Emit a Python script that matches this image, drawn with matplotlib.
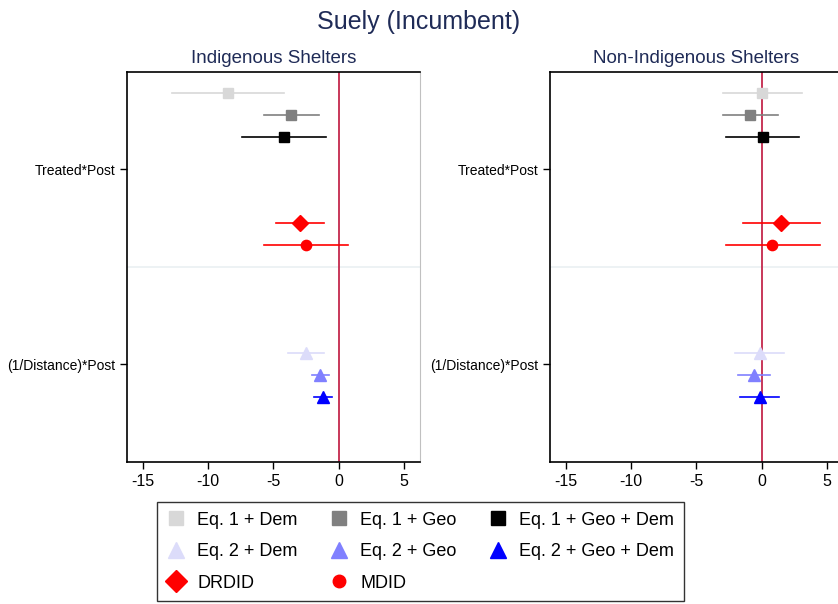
import numpy as np
import matplotlib
matplotlib.use('Agg')
import matplotlib.pyplot as plt
from matplotlib.lines import Line2D

plt.rcParams['font.family'] = ['Liberation Sans', 'DejaVu Sans']

#%% Coefficients and confidence intervals
models = ['Eq. 1 + Dem', 'Eq. 1 + Geo', 'Eq. 1 + Geo + Dem',
          'Eq. 2 + Dem', 'Eq. 2 + Geo', 'Eq. 2 + Geo + Dem',
          'DRDID', 'MDID']
coef_labels = ['Treated*Post', '(1/Distance)*Post']
panel_titles = ['Indigenous Shelters', 'Non-Indigenous Shelters']

indig_est = [-8.47, -3.66, -4.22, -2.51, -1.41, -1.20, -2.94, -2.53]
indig_lo = [-12.76, -5.73, -7.42, -3.89, -2.05, -1.89, -4.78, -5.73]
indig_hi = [-4.19, -1.51, -0.97, -1.10, -0.74, -0.49, -1.08, 0.71]

nonind_est = [0.05, -0.87, 0.08, -0.15, -0.59, -0.15, 1.51, 0.82]
nonind_lo = [-2.92, -2.97, -2.69, -2.00, -1.82, -1.64, -1.46, -2.76]
nonind_hi = [3.12, 1.23, 2.89, 1.69, 0.67, 1.33, 4.51, 4.46]

#%% Plot styling
row_pos = [0, 1, 2, 12, 13, 14, 6, 7]
colors = ['#d8d8d8', '#808080', '#000000',
          '#dcdcfa', '#8080ff', '#0000ff',
          '#ff0000', '#ff0000']
markers = ['s', 's', 's', '^', '^', '^', 'D', 'o']
msizes = [7.7, 7.7, 7.7, 8.5, 8.5, 8.5, 8.0, 7.4]
leg_sizes = [10, 10, 10, 11, 11, 11, 11, 9]
title_col = '#1f2b57'
zero_col = '#c4284c'

fig = plt.figure(figsize=(8.38, 6.04), dpi=100)
ax_l = fig.add_axes([0.1512, 0.2356, 0.350, 0.6457])
ax_r = fig.add_axes([0.6560, 0.2356, 0.350, 0.6457])

panels = [(ax_l, indig_est, indig_lo, indig_hi),
          (ax_r, nonind_est, nonind_lo, nonind_hi)]

for (ax, est, lo, hi), ttl in zip(panels, panel_titles):
    ax.axhline(8, color='#eaf0f2', lw=1.2, zorder=1)
    ax.axvline(0, color=zero_col, lw=1.3, zorder=2)
    for i in range(len(models)):
        ax.plot([lo[i], hi[i]], [row_pos[i], row_pos[i]], color=colors[i],
                lw=1.2, zorder=3)
        ax.plot(est[i], row_pos[i], marker=markers[i], ms=msizes[i],
                color=colors[i], mec=colors[i], ls='none', zorder=4)
    ax.set_xlim(-16.25, 6.25)
    ax.set_ylim(17, -1)
    ax.set_xticks([-15, -10, -5, 0, 5])
    ax.set_xticklabels(['-15', '-10', '-5', '0', '5'])
    ax.set_yticks([3.5, 12.5])
    ax.set_yticklabels(coef_labels)
    ax.tick_params(axis='both', direction='out', length=5, width=1,
                   labelsize=11.5, colors='black')
    ax.tick_params(axis='y', labelsize=10, pad=3)
    for side in ['left', 'bottom', 'top']:
        ax.spines[side].set_color('black')
        ax.spines[side].set_linewidth(1.2)
    ax.spines['right'].set_color('#c0c0c0')
    ax.set_title(ttl, fontsize=13.5, color=title_col, pad=6)

fig.suptitle('Suely (Incumbent)', fontsize=18, color=title_col, y=0.983)

#%% Legend
handles = [Line2D([], [], marker=markers[i], ms=leg_sizes[i], color=colors[i],
                  ls='none') for i in range(len(models))]
order = [0, 3, 6, 1, 4, 7, 2, 5]
leg = fig.legend([handles[i] for i in order], [models[i] for i in order],
                 ncol=3, loc='upper center', bbox_to_anchor=(0.502, 0.1694),
                 fontsize=13, frameon=True, fancybox=False, edgecolor='black',
                 handlelength=1.0, handletextpad=0.65, columnspacing=1.82,
                 labelspacing=0.8, borderpad=0.55, borderaxespad=0)
leg.get_frame().set_linewidth(1.0)

fig.savefig('out.png', dpi=100)
